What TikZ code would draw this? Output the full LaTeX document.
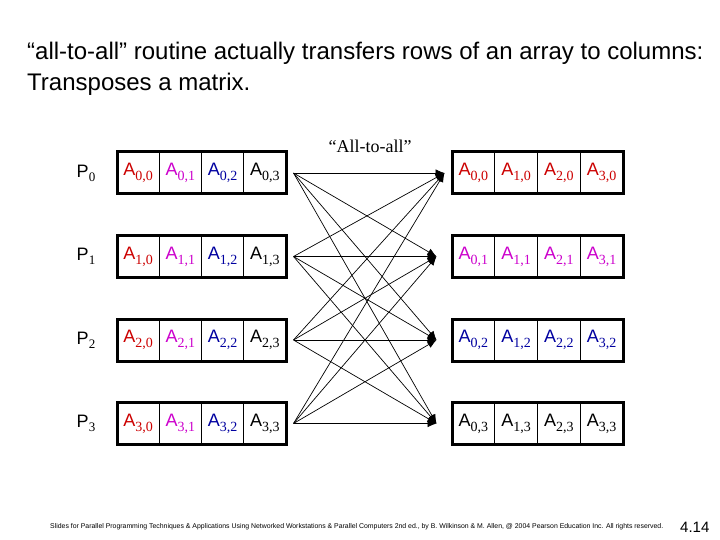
\documentclass[tikz,border=0pt]{standalone}
\usepackage{fontspec}
\setmainfont{Liberation Sans}
\newfontfamily\seriffont{Liberation Serif}
\usetikzlibrary{arrows.meta}
\definecolor{cRed}{RGB}{204,0,0}
\definecolor{cMag}{RGB}{204,0,204}
\definecolor{cBlue}{RGB}{0,0,160}
\newcommand\Aent[3]{\textcolor{#3}{\fontsize{18}{18}\selectfont A\raisebox{-5pt}{\seriffont\fontsize{14}{14}\selectfont #1,#2}}}
\begin{document}
\begin{tikzpicture}[x=1pt,y=-1pt,
  cellbox/.style={draw,line width=0.8pt,minimum width=42.25pt,minimum height=42pt,inner sep=0pt},
  cellboxR/.style={draw,line width=0.8pt,minimum width=42.75pt,minimum height=42pt,inner sep=0pt},
  outerL/.style={draw,line width=3pt,minimum width=169pt,minimum height=42pt,inner sep=0pt},
  outerR/.style={draw,line width=3pt,minimum width=171pt,minimum height=42pt,inner sep=0pt},
  plab/.style={inner sep=0pt,font=\fontsize{18}{18}\selectfont},
  arr/.style={line width=0.7pt,-{Latex[length=9pt,width=7.5pt]}}]
\useasboundingbox[fill=white] (0,0) rectangle (720,540);
\node[anchor=north west,align=left,inner sep=0pt,font=\fontsize{24}{31}\selectfont] (title) at (27,42)
  {“all-to-all” routine actually transfers rows of an array to columns:\\Transposes a matrix.};
\node[inner sep=0pt,font=\seriffont\fontsize{18}{18}\selectfont] (lbl) at (370,146) {“All-to-all”};
\foreach \r/\rc in {0/cRed,1/cMag,2/cBlue,3/black}{
  \pgfmathsetmacro\yy{173+83.5*\r}
  \node[plab] (P\r) at (86,\yy) {P\raisebox{-4pt}{\seriffont\fontsize{13}{13}\selectfont\r}};
  \foreach \c/\cc in {0/cRed,1/cMag,2/cBlue,3/black}{
    \node[cellbox] (L\r\c) at ({117+42.25*(\c+0.5)},\yy) {\Aent{\r}{\c}{\cc}};
    \node[cellboxR] (R\r\c) at ({452+42.75*(\c+0.5)},\yy) {\Aent{\c}{\r}{\rc}};
  }
  \node[outerL] (L\r) at (201.5,\yy) {};
  \node[outerR] (R\r) at (537.5,\yy) {};
  \coordinate (s\r) at ([xshift=6pt]L\r.east);
}
\coordinate (t0) at ([xshift=-6pt]R0.west);
\coordinate (t1) at ([xshift=-14pt]R1.west);
\coordinate (t2) at ([xshift=-14pt]R2.west);
\coordinate (t3) at ([xshift=-14pt]R3.west);
\foreach \i in {0,...,3}{
  \foreach \j in {0,...,3}{
    \draw[arr] (s\i) -- (t\j);
  }
}
\node[anchor=west,inner sep=0pt,font=\fontsize{6.9}{8}\selectfont] (foot) at (50,527)
  {Slides for Parallel Programming Techniques \& Applications Using Networked Workstations \& Parallel Computers 2nd ed., by B. Wilkinson \& M. Allen, @ 2004 Pearson Education Inc. All rights reserved.};
\node[anchor=west,inner sep=0pt,font=\fontsize{15}{15}\selectfont] (pg) at (680,527) {4.14};
\end{tikzpicture}
\end{document}
